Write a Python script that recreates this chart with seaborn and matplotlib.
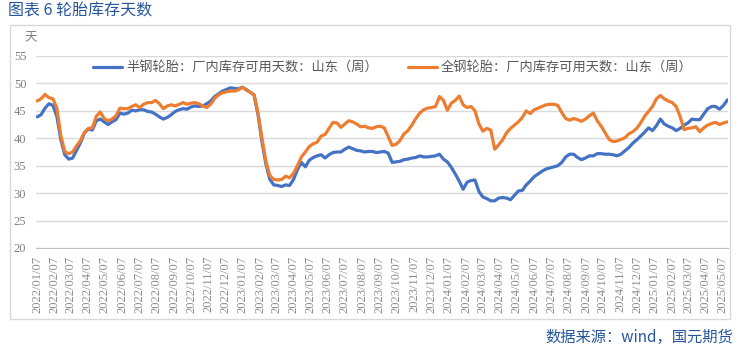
import pandas as pd
import seaborn as sns
import matplotlib.pyplot as plt
from matplotlib.patches import Rectangle

# weekly data, Shandong tyre plant inventory (days)
dates = pd.date_range("2022-01-07", periods=176, freq="7D")

semi_steel = [
    43.9, 44.3, 45.5, 46.3, 46.0, 44.0, 39.8, 37.0, 36.2, 36.4, 37.8, 39.2, 41.0, 41.7, 41.5,
    43.2, 43.5, 43.0, 42.5, 43.0, 43.4, 44.6, 44.4, 44.6, 45.1, 45.0, 45.2, 45.2, 44.9,
    44.8, 44.4, 43.9, 43.5, 43.8, 44.3, 44.9, 45.2, 45.4, 45.3, 45.7, 45.9, 45.8, 45.9, 46.3,
    46.8, 47.6, 48.1, 48.6, 48.9, 49.2, 49.1, 49.0, 49.3, 48.9, 48.4, 47.9, 44.3, 39.3, 35.3,
    32.5, 31.5, 31.4, 31.2, 31.5, 31.4, 32.5, 34.3, 35.6, 34.8, 36.0, 36.5, 36.8, 37.0, 36.4,
    37.0, 37.4, 37.5, 37.5, 38.0, 38.4, 38.1, 37.8, 37.7, 37.5, 37.6, 37.6, 37.4, 37.5,
    37.6, 37.3, 35.6, 35.7, 35.8, 36.1, 36.2, 36.4, 36.5, 36.8, 36.6, 36.6, 36.7, 36.8, 37.1,
    36.2, 35.7, 34.7, 33.5, 32.2, 30.7, 32.0, 32.3, 32.4, 30.3, 29.3, 29.0, 28.6, 28.6,
    29.1, 29.2, 29.1, 28.8, 29.6, 30.4, 30.5, 31.5, 32.2, 33.0, 33.5, 34.0, 34.4, 34.6, 34.8,
    35.0, 35.6, 36.6, 37.1, 37.1, 36.5, 36.1, 36.4, 36.8, 36.8, 37.2, 37.2, 37.1, 37.1,
    37.0, 36.8, 37.1, 37.7, 38.3, 39.1, 39.7, 40.4, 41.1, 41.9, 41.4, 42.3, 43.5, 42.6, 42.2,
    41.9, 41.4, 41.8, 42.4, 42.8, 43.5, 43.4, 43.4, 44.4, 45.4, 45.8, 45.8, 45.3, 46.0, 47.0,
]

all_steel = [
    46.8, 47.2, 48.0, 47.4, 47.2, 45.5, 40.5, 37.6, 37.2, 37.5, 38.6, 39.6, 41.1, 41.8, 41.9,
    44.0, 44.8, 43.6, 43.2, 43.5, 44.1, 45.5, 45.4, 45.4, 45.8, 46.1, 45.6, 46.2, 46.5,
    46.5, 46.9, 46.3, 45.4, 45.9, 46.1, 45.9, 46.2, 46.5, 46.2, 46.4, 46.5, 46.3, 45.9, 45.6,
    46.2, 47.3, 47.9, 48.3, 48.5, 48.6, 48.6, 48.8, 49.3, 48.8, 48.4, 47.9, 44.6, 40.0, 35.8,
    33.2, 32.5, 32.4, 32.5, 33.1, 32.8, 33.6, 35.0, 36.6, 37.5, 38.5, 39.0, 39.3, 40.4, 40.7,
    41.8, 42.9, 42.8, 42.0, 42.6, 43.2, 43.0, 42.6, 42.1, 42.2, 41.9, 41.8, 42.1, 42.2,
    41.9, 40.3, 38.7, 38.9, 39.6, 40.8, 41.4, 42.4, 43.6, 44.6, 45.2, 45.5, 45.6, 45.8, 47.6,
    46.9, 45.1, 46.4, 46.9, 47.7, 46.1, 45.6, 45.8, 45.0, 42.6, 41.3, 41.8, 41.5, 38.0,
    38.8, 39.7, 41.0, 41.8, 42.4, 43.0, 43.8, 45.0, 44.5, 45.2, 45.5, 45.8, 46.1, 46.2, 46.2,
    46.0, 44.7, 43.6, 43.3, 43.6, 43.4, 43.1, 43.5, 44.1, 44.6, 43.2, 42.2, 41.0, 39.8,
    39.4, 39.5, 39.8, 40.1, 40.8, 41.2, 41.8, 42.8, 44.0, 44.9, 45.8, 47.2, 47.8, 47.2, 46.8,
    46.5, 45.8, 44.0, 41.6, 41.8, 41.9, 42.1, 41.2, 41.9, 42.4, 42.7, 42.9, 42.5, 42.8, 43.0,
]

series_names = ["半钢轮胎：厂内库存可用天数：山东（周）", "全钢轮胎：厂内库存可用天数：山东（周）"]
colors = ["#4472C4", "#ED7D31"]

tick_dates = pd.date_range("2022-01-07", "2025-05-07", freq=pd.DateOffset(months=1))
tick_labels = [d.strftime("%Y/%m/%d") for d in tick_dates]

df = pd.concat([
    pd.DataFrame({"date": dates, "value": semi_steel, "series": series_names[0]}),
    pd.DataFrame({"date": dates, "value": all_steel, "series": series_names[1]}),
])

sns.set_style("white")
plt.rcParams["font.family"] = ["Noto Sans CJK SC", "DejaVu Sans"]

fig = plt.figure(figsize=(7.46, 3.52), dpi=100)
ax = fig.add_axes([36 / 746, 104 / 352, 692 / 746, 192 / 352])

sns.lineplot(data=df, x="date", y="value", hue="series", hue_order=series_names,
             palette=colors, linewidth=2.3, ax=ax, legend=False)

ax.set_ylim(20, 55)
ax.set_yticks(range(20, 56, 5))
ax.set_xlim(dates[0] - pd.Timedelta(days=2), dates[-1] + pd.Timedelta(days=1))
ax.set_xticks(tick_dates)
ax.set_xticklabels(tick_labels, rotation=90)
ax.set_xlabel("")
ax.set_ylabel("")

ax.yaxis.grid(True, color="#d9d9d9", linewidth=1)
ax.set_axisbelow(True)
for s in ["top", "right", "left"]:
    ax.spines[s].set_visible(False)
ax.spines["bottom"].set_color("#bfbfbf")

ax.tick_params(axis="y", length=0, pad=7, labelsize=9, labelcolor="#808080")
ax.tick_params(axis="x", length=3.5, width=0.8, color="#bfbfbf", direction="out",
               pad=2, labelsize=9, labelcolor="#8c8c8c")
for lbl in ax.get_xticklabels() + ax.get_yticklabels():
    lbl.set_fontfamily("Liberation Serif")

handles = ax.get_lines()[:2]
ax.legend(handles, series_names, loc="center left",
          bbox_to_anchor=((93 - 36) / 692, (248 - 68) / 192), ncol=2, frameon=False,
          fontsize=9.5, handlelength=2.2, handletextpad=0.3, columnspacing=2.3,
          borderpad=0, borderaxespad=0, labelcolor="#595959")

# light frame round the chart
fig.patches.append(Rectangle((10 / 746, 33 / 352), 720 / 746, 294 / 352,
                             transform=fig.transFigure, fill=False,
                             edgecolor="#d9d9d9", linewidth=1))

fig.text(8 / 746, 1 - 11 / 352, "图表 6 轮胎库存天数", ha="left", va="center",
         fontsize=11.5, color="#25569c")
fig.text(31 / 746, 1 - 38 / 352, "天", ha="center", va="center", fontsize=9, color="#808080")
fig.text(733 / 746, 1 - 337 / 352, "数据来源：wind，国元期货", ha="right", va="center",
         fontsize=11, color="#25569c")

fig.savefig("out.png", dpi=100)
